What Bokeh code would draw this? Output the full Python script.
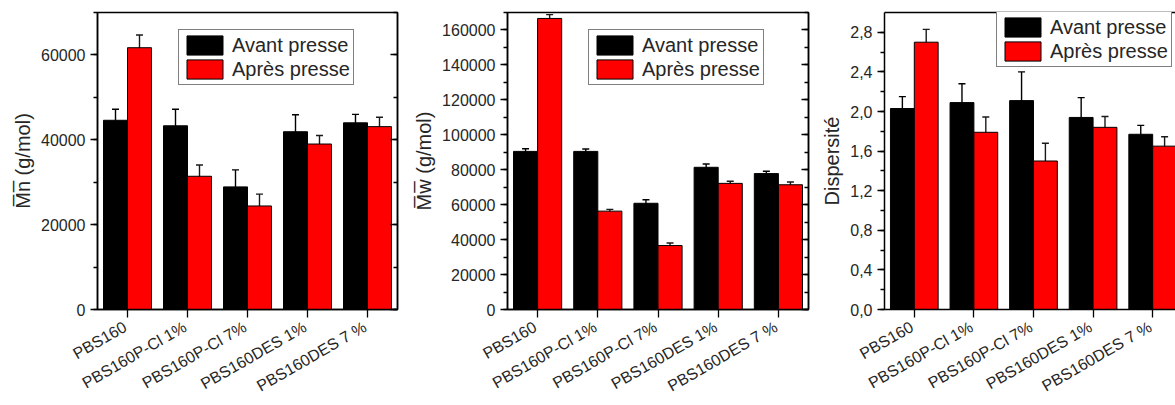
import math
import numpy as np
from bokeh.plotting import figure
from bokeh.models import (ColumnDataSource, Whisker, TeeHead, LinearAxis, Range1d,
                          SingleIntervalTicker, FixedTicker, Legend, LegendItem,
                          CustomJSTickFormatter, BasicTickFormatter, CustomLabelingPolicy)
from bokeh.layouts import row
from bokeh.embed import file_html
from bokeh.resources import INLINE

# ---------------- data ----------------
categories = ["PBS160", "PBS160P-Cl 1%", "PBS160P-Cl 7%", "PBS160DES 1%", "PBS160DES 7 %"]
series_names = ["Avant presse", "Après presse"]

mn_avant = [44600, 43300, 28900, 41900, 44000]
mn_avant_err = [2600, 3900, 4000, 4000, 2000]
mn_apres = [61700, 31400, 24400, 39000, 43100]
mn_apres_err = [3000, 2650, 2800, 2000, 2200]

mw_avant = [90500, 90500, 60800, 81400, 77800]
mw_avant_err = [1500, 1400, 2000, 1900, 1300]
mw_apres = [166600, 56300, 36600, 72200, 71400]
mw_apres_err = [2200, 1000, 1500, 1200, 1600]

disp_avant = [2.03, 2.09, 2.11, 1.94, 1.77]
disp_avant_err = [0.12, 0.19, 0.29, 0.20, 0.09]
disp_apres = [2.70, 1.79, 1.50, 1.84, 1.65]
disp_apres_err = [0.13, 0.155, 0.18, 0.11, 0.095]

FONT = "Liberation Sans"
TXT = "#262626"
LABEL_SHIFT = -0.04   # fine horizontal placement of the slanted labels


def hidden_labels(axis):
    axis.formatter = CustomJSTickFormatter(code="return '';")
    axis.major_label_policy = CustomLabelingPolicy(code="return []")
    axis.major_label_standoff = 0
    axis.major_label_text_font_size = "1px"


def make_panel(avant, avant_err, apres, apres_err, ylabel, y_end, y_interval,
               x_end, width, border_left, border_right, legend_loc, formatter,
               right_axis=True):
    p = figure(width=width, height=405,
               x_range=Range1d(0.5, x_end), y_range=Range1d(0, y_end),
               x_axis_location=None, y_axis_location=None,
               output_backend="svg", toolbar_location=None,
               min_border_left=border_left, min_border_right=border_right,
               min_border_top=12, min_border_bottom=93)
    p.xgrid.visible = False
    p.ygrid.visible = False
    p.background_fill_color = "white"
    p.border_fill_color = "white"
    if right_axis:
        p.outline_line_color = "black"
        p.outline_line_width = 1.5
    else:
        p.outline_line_color = None

    idx = np.arange(1, len(categories) + 1)
    av = np.array(avant, dtype=float)
    ae = np.array(avant_err, dtype=float)
    ap = np.array(apres, dtype=float)
    pe = np.array(apres_err, dtype=float)
    src = ColumnDataSource(dict(
        x_av=idx - 0.2, x_ap=idx + 0.2,
        avant=av, apres=ap,
        av_lo=av - ae, av_hi=av + ae,
        ap_lo=ap - pe, ap_hi=ap + pe,
    ))

    r1 = p.vbar(x="x_av", top="avant", width=0.4, source=src,
                fill_color="black", line_color="black", line_width=1)
    r2 = p.vbar(x="x_ap", top="apres", width=0.4, source=src,
                fill_color="#ff0000", line_color="black", line_width=1)

    for base, lo, hi, col in (("x_av", "av_lo", "av_hi", "black"),
                              ("x_ap", "ap_lo", "ap_hi", "#1a1a1a")):
        w = Whisker(source=src, base=base, lower=lo, upper=hi,
                    line_color=col, line_width=1.4,
                    upper_head=TeeHead(size=7, line_color=col, line_width=1.4),
                    lower_head=TeeHead(size=7, line_color=col, line_width=1.4))
        p.add_layout(w)

    ticker = SingleIntervalTicker(interval=y_interval, num_minor_ticks=2)
    left = LinearAxis(ticker=ticker, formatter=formatter, axis_label=ylabel)
    left.axis_line_width = 1.5
    left.major_tick_line_width = 1.3
    left.minor_tick_line_width = 1.3
    left.major_tick_out = 7
    left.major_tick_in = 0
    left.minor_tick_out = 4
    left.minor_tick_in = 0
    left.major_label_text_font = FONT
    left.major_label_text_font_size = "16px"
    left.major_label_text_color = TXT
    left.major_label_standoff = 5
    left.axis_label_text_font = FONT
    left.axis_label_text_font_size = "20px"
    left.axis_label_text_font_style = "normal"
    left.axis_label_text_color = TXT
    left.axis_label_standoff = 4
    p.add_layout(left, "left")

    if right_axis:
        right = LinearAxis(ticker=SingleIntervalTicker(interval=y_interval, num_minor_ticks=2))
        hidden_labels(right)
        right.axis_line_width = 1.5
        right.major_tick_line_width = 1.3
        right.minor_tick_line_width = 1.3
        right.major_tick_in = 7
        right.major_tick_out = 0
        right.minor_tick_in = 4
        right.minor_tick_out = 0
        p.add_layout(right, "right")
    else:
        top = LinearAxis(ticker=FixedTicker(ticks=[]))
        top.axis_line_width = 1.5
        top.major_tick_line_color = None
        top.minor_tick_line_color = None
        top.major_label_standoff = 0
        p.add_layout(top, "above")

    # bottom axis: line and tick marks at each category
    bottom = LinearAxis(ticker=FixedTicker(ticks=[int(i) for i in idx], minor_ticks=[]))
    hidden_labels(bottom)
    bottom.axis_line_width = 1.5
    bottom.major_tick_line_width = 1.3
    bottom.major_tick_out = 8
    bottom.major_tick_in = 0
    bottom.minor_tick_line_color = None
    p.add_layout(bottom, "below")

    # second bottom axis carrying only the slanted category labels
    lab_ticks = [float(i) + LABEL_SHIFT for i in idx]
    lab_axis = LinearAxis(ticker=FixedTicker(ticks=lab_ticks, minor_ticks=[]))
    lab_axis.major_label_overrides = {t: c for t, c in zip(lab_ticks, categories)}
    lab_axis.major_label_orientation = math.pi / 6
    lab_axis.axis_line_color = None
    lab_axis.major_tick_line_color = None
    lab_axis.minor_tick_line_color = None
    lab_axis.major_tick_out = 0
    lab_axis.major_tick_in = 0
    lab_axis.major_label_text_font = FONT
    lab_axis.major_label_text_font_size = "16px"
    lab_axis.major_label_text_color = TXT
    lab_axis.major_label_standoff = 8
    p.add_layout(lab_axis, "below")

    legend = Legend(items=[LegendItem(label=series_names[0], renderers=[r1]),
                           LegendItem(label=series_names[1], renderers=[r2])],
                    location=legend_loc)
    legend.border_line_color = "black"
    legend.border_line_width = 1.2
    legend.background_fill_color = "white"
    legend.background_fill_alpha = 1
    legend.glyph_width = 45
    legend.glyph_height = 24
    legend.label_height = 24
    legend.label_standoff = 5
    legend.padding = 3
    legend.spacing = 0
    legend.margin = 0
    legend.label_text_font = FONT
    legend.label_text_font_size = "20px"
    legend.label_text_color = TXT
    p.add_layout(legend)
    return p


int_fmt = BasicTickFormatter(use_scientific=False)
int_fmt2 = BasicTickFormatter(use_scientific=False)
comma_fmt = CustomJSTickFormatter(code="return tick.toFixed(1).replace('.', ',');")

p1 = make_panel(mn_avant, mn_avant_err, mn_apres, mn_apres_err,
                "M\u0305n\u0305 (g/mol)", 70000, 20000,
                5.5, 407, 97, 10, (81, 224), int_fmt)
p2 = make_panel(mw_avant, mw_avant_err, mw_apres, mw_apres_err,
                "M\u0305w\u0305 (g/mol)", 170000, 20000,
                5.5, 411, 100, 10, (81, 224), int_fmt2)
p3 = make_panel(disp_avant, disp_avant_err, disp_apres, disp_apres_err,
                "Dispersité", 3.0, 0.4,
                5.383, 357, 64, 0, (112, 242), comma_fmt, right_axis=False)

layout = row(p1, p2, p3)
open("out.html", "w").write(file_html(layout, INLINE))
